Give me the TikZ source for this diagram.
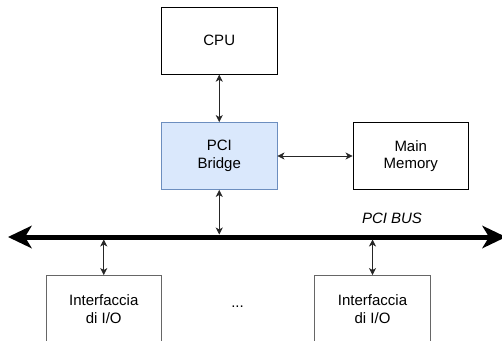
\documentclass[tikz,border=0pt]{standalone}
\usepackage{fontspec}
\setmainfont{Liberation Sans}
\usetikzlibrary{arrows.meta}
\definecolor{bridgefill}{HTML}{DAE8FC}
\definecolor{bridgedraw}{HTML}{6C8EBF}
\definecolor{iodraw}{HTML}{666666}
\begin{document}
\begin{tikzpicture}[x=1pt,y=-1pt,
  box/.style={draw=black,line width=0.9pt,minimum width=115.5pt,minimum height=67pt,inner sep=0pt,
    align=center,font=\fontsize{15}{17.7}\selectfont},
  iobox/.style={box,draw=iodraw},
  link/.style={draw=black!85,line width=0.8pt,{Stealth[length=7pt,width=7pt,inset=2pt]}-{Stealth[length=7pt,width=7pt,inset=2pt]}},
  busline/.style={line width=5pt,{Stealth[length=24pt,width=23pt,inset=7pt,line width=0pt]}-{Stealth[length=24pt,width=23pt,inset=7pt,line width=0pt]}}]
\useasboundingbox (0,0) rectangle (502,340);
\node[box] (cpu) at (219.25,40.75) {CPU};
\node[box,fill=bridgefill,draw=bridgedraw] (bridge) at (219.25,156) {PCI\\Bridge};
\node[box] (mem) at (410.75,156) {Main\\Memory};
\node[iobox] (io1) at (103.75,309) {Interfaccia\\di I/O};
\node[iobox] (io2) at (372.5,309) {Interfaccia\\di I/O};
\node[font=\fontsize{15}{17.7}\selectfont,inner sep=0pt] (dots) at (237.5,306.5) {...};
\coordinate (busL) at (8,237);
\coordinate (busR) at (506,237);
\draw[busline] (busL) -- (busR);
\node[font=\itshape\fontsize{15}{17.7}\selectfont] (buslabel) at (392,218) {PCI BUS};
\coordinate (bb) at (219.25,234.5);
\coordinate (b1) at (103.75,239.5);
\coordinate (b2) at (372.5,239.5);
\draw[link] (cpu.south) -- (bridge.north);
\draw[link] (bridge.east) -- (mem.west);
\draw[link] (bridge.south) -- (bb);
\draw[link] (b1) -- (io1.north);
\draw[link] (b2) -- (io2.north);
\end{tikzpicture}
\end{document}
